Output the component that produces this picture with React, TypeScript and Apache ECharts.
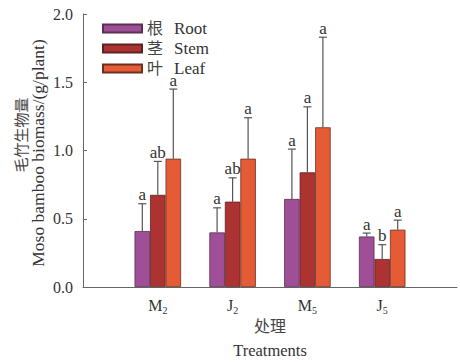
import React, { useEffect, useRef } from "react";
import * as echarts from "echarts";

const categories = ["M2", "J2", "M5", "J5"];
const seriesNames = ["Root", "Stem", "Leaf"];
const seriesNamesCn = ["根", "茎", "叶"];
const rootMean = [0.41, 0.4, 0.645, 0.37];
const rootErr = [0.2, 0.18, 0.365, 0.025];
const stemMean = [0.675, 0.625, 0.84, 0.205];
const stemErr = [0.245, 0.175, 0.48, 0.105];
const leafMean = [0.94, 0.94, 1.17, 0.42];
const leafErr = [0.51, 0.3, 0.66, 0.07];
const rootSig = ["a", "a", "a", "a"];
const stemSig = ["ab", "ab", "a", "b"];
const leafSig = ["a", "a", "a", "a"];
const yMin = 0;
const yMax = 2;
const yInterval = 0.5;

const SERIF = "'Liberation Serif', 'Times New Roman', 'Noto Sans CJK SC', serif";
const CJK = "'Noto Sans CJK SC', sans-serif";
const colors = ["#9f4f98", "#ad3232", "#e55b36"];
const borders = ["#5b2f4f", "#5c2222", "#6a3020"];
const BAR_W = 15.5;

export default function App() {
  const ref = useRef<HTMLDivElement>(null);
  useEffect(() => {
    document.body.style.margin = "0";
    if (!ref.current) return;
    const chart = echarts.init(ref.current, undefined, { renderer: "svg" });
    const axisData = ["", ...categories, ""];
    const means = [rootMean, stemMean, leafMean];
    const errs = [rootErr, stemErr, leafErr];
    const sigs = [rootSig, stemSig, leafSig];

    const barSeries = seriesNames.map((name, s) => ({
      name,
      type: "bar",
      barWidth: BAR_W,
      barGap: "0%",
      data: [null, ...means[s], null],
      itemStyle: { color: colors[s], borderColor: borders[s], borderWidth: 0.8 },
      z: 2,
    }));

    const errSeries = seriesNames.map((name, s) => ({
      name: name + "_err",
      type: "custom",
      z: 3,
      data: means[s].map((m, i) => [i + 1, m, errs[s][i]]),
      renderItem: (params: any, api: any) => {
        const base = api.coord([api.value(0), api.value(1)]);
        const top = api.coord([api.value(0), api.value(1) + api.value(2)]);
        const cx = base[0] + (s - 1) * BAR_W;
        const ls = { stroke: "#555", lineWidth: 1.2 };
        return {
          type: "group",
          children: [
            { type: "line", shape: { x1: cx, y1: base[1], x2: cx, y2: top[1] }, style: ls },
            { type: "line", shape: { x1: cx - 4, y1: top[1], x2: cx + 4, y2: top[1] }, style: ls },
            {
              type: "text",
              x: cx,
              y: top[1] - 2,
              style: {
                text: sigs[s][params.dataIndex],
                align: "center",
                verticalAlign: "bottom",
                fontSize: 17,
                lineHeight: 14,
                fontFamily: SERIF,
                fill: "#333",
              },
            },
          ],
        };
      },
    }));

    chart.setOption({
      animation: false,
      grid: { left: 83, right: 0, top: 14, bottom: 75, containLabel: false },
      legend: {
        data: seriesNames,
        orient: "vertical",
        left: 97,
        top: 15,
        itemWidth: 39,
        itemHeight: 8,
        itemGap: 3,
        icon: "rect",
        formatter: (n: string) => `{c|${seriesNamesCn[seriesNames.indexOf(n)]}}{e|${n}}`,
        textStyle: {
          color: "#333",
          lineHeight: 17,
          rich: {
            c: { fontSize: 16, lineHeight: 17, fontFamily: SERIF, color: "#444" },
            e: { fontSize: 17, lineHeight: 17, fontFamily: SERIF, color: "#333", padding: [0, 0, 0, 11] },
          },
        },
      },
      xAxis: {
        type: "category",
        data: axisData,
        boundaryGap: false,
        axisTick: { show: false },
        axisLine: { lineStyle: { color: "#666", width: 1 } },
        axisLabel: {
          margin: 8,
          interval: 0,
          formatter: (v: string) => (v ? `{m|${v[0]}}{s|${v.slice(1)}}` : ""),
          rich: {
            m: { fontSize: 16, fontFamily: SERIF, color: "#333" },
            s: { fontSize: 10, fontFamily: SERIF, color: "#333", padding: [11, 0, 0, 0] },
          },
        },
      },
      yAxis: {
        type: "value",
        min: yMin,
        max: yMax,
        interval: yInterval,
        splitLine: { show: false },
        axisLine: { show: true, lineStyle: { color: "#666", width: 1 } },
        axisTick: { show: true, inside: true, length: 4, lineStyle: { color: "#666" } },
        axisLabel: {
          margin: 10,
          fontSize: 16,
          fontFamily: SERIF,
          color: "#333",
          formatter: (v: number) => v.toFixed(1),
        },
      },
      graphic: [
        {
          type: "text",
          x: 20,
          y: 135,
          rotation: Math.PI / 2,
          style: { text: "毛竹生物量", fontSize: 15, fontFamily: CJK, fill: "#444", align: "center", verticalAlign: "middle" },
        },
        {
          type: "text",
          x: 38,
          y: 153,
          rotation: Math.PI / 2,
          style: {
            text: "Moso bamboo biomass/(g/plant)",
            fontSize: 17.5,
            fontFamily: SERIF,
            fill: "#333",
            align: "center",
            verticalAlign: "middle",
          },
        },
        {
          type: "text",
          x: 270,
          y: 325,
          style: { text: "处理", fontSize: 16, fontFamily: CJK, fill: "#444", align: "center", verticalAlign: "middle" },
        },
        {
          type: "text",
          x: 270,
          y: 350,
          style: { text: "Treatments", fontSize: 16.5, fontFamily: SERIF, fill: "#333", align: "center", verticalAlign: "middle" },
        },
      ],
      series: [...barSeries, ...errSeries],
    });
    return () => chart.dispose();
  }, []);
  return <div ref={ref} style={{ width: 460, height: 362 }} />;
}
